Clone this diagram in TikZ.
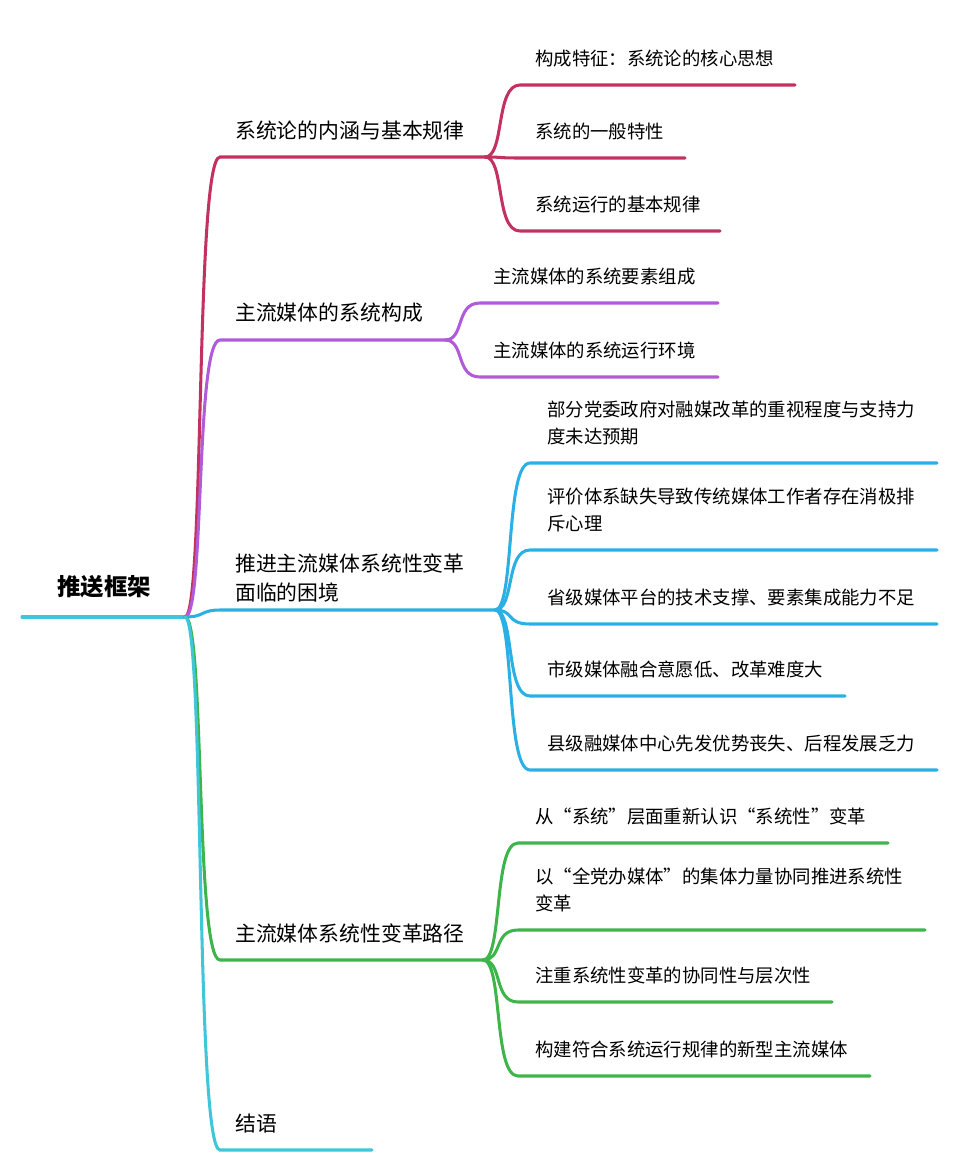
\documentclass[tikz,border=0pt]{standalone}
\usepackage{fontspec}
\setmainfont{Noto Sans CJK SC}
\usetikzlibrary{positioning}
\definecolor{cred}{HTML}{C2325F}
\definecolor{cpurple}{HTML}{B05BD8}
\definecolor{cblue}{HTML}{2AB0E4}
\definecolor{cgreen}{HTML}{3DB54A}
\definecolor{ccyan}{HTML}{3FC6D8}
\tikzset{
    branch/.style={line width=2.6pt, line cap=round},
    label/.style={anchor=south west, inner sep=0pt, font=\fontsize{15.7}{22.5}\selectfont, align=left},
    mainlabel/.style={label, font=\fontsize{17.8}{24}\selectfont},
    root/.style={inner sep=0pt, font=\fontsize{20}{24}\selectfont\bfseries}
}
\begin{document}
\begin{tikzpicture}[x=0.03cm, y=-0.03cm]
    \useasboundingbox (0,0) rectangle (960,1175);
    % Root
    \node[root] (root) at (104,587) {推送框架};
    \coordinate (rs) at (22,617);
    \coordinate (rh) at (185,617);
    \draw[branch, ccyan] (rs) -- (rh);

    % Branch 1
    \coordinate (b1s) at (220,157); \coordinate (b1e) at (485,157);
    \draw[branch, cred] (rh) .. controls (205,617) and (195,157) .. (b1s) -- (b1e);
    \node[mainlabel] (b1) at (235,140) {系统论的内涵与基本规律};
    \foreach \y/\xe/\t in {85/795/构成特征：系统论的核心思想, 158/685/系统的一般特性, 231/720/系统运行的基本规律}{
        \draw[branch, cred] (b1e) .. controls (505,157) and (495,\y) .. (520,\y) -- (\xe,\y);
        \node[label] at (535,\y-18) {\t};
    }

    % Branch 2
    \coordinate (b2s) at (220,340); \coordinate (b2e) at (445,340);
    \draw[branch, cpurple] (rh) .. controls (205,617) and (195,340) .. (b2s) -- (b2e);
    \node[mainlabel] (b2) at (235,323) {主流媒体的系统构成};
    \foreach \y/\t in {303/主流媒体的系统要素组成, 377/主流媒体的系统运行环境}{
        \draw[branch, cpurple] (b2e) .. controls (465,340) and (455,\y) .. (480,\y) -- (718,\y);
        \node[label] at (493,\y-18) {\t};
    }

    % Branch 3
    \coordinate (b3s) at (220,610); \coordinate (b3e) at (495,610);
    \draw[branch, cblue] (rh) .. controls (205,617) and (200,610) .. (b3s) -- (b3e);
    \node[mainlabel] (b3) at (235,602) {推进主流媒体系统性变革\\面临的困境};
    \foreach \y/\xe/\t in {463/937/{部分党委政府对融媒改革的重视程度与支持力\\度未达预期}, 550/937/{评价体系缺失导致传统媒体工作者存在消极排\\斥心理}, 624/937/省级媒体平台的技术支撑、要素集成能力不足, 696/845/市级媒体融合意愿低、改革难度大, 770/937/县级融媒体中心先发优势丧失、后程发展乏力}{
        \draw[branch, cblue] (b3e) .. controls (515,610) and (505,\y) .. (530,\y) -- (\xe,\y);
        \node[label] at (547,\y-18) {\t};
    }

    % Branch 4
    \coordinate (b4s) at (220,960); \coordinate (b4e) at (483,960);
    \draw[branch, cgreen] (rh) .. controls (205,617) and (195,960) .. (b4s) -- (b4e);
    \node[mainlabel] (b4) at (235,943) {主流媒体系统性变革路径};
    \foreach \y/\xe/\t in {843/888/从“系统”层面重新认识“系统性”变革, 930/925/{以“全党办媒体”的集体力量协同推进系统性\\变革}, 1002/832/注重系统性变革的协同性与层次性, 1076/870/构建符合系统运行规律的新型主流媒体}{
        \draw[branch, cgreen] (b4e) .. controls (503,960) and (493,\y) .. (518,\y) -- (\xe,\y);
        \node[label] at (535,\y-18) {\t};
    }

    % Branch 5
    \coordinate (b5s) at (220,1150); \coordinate (b5e) at (372,1150);
    \draw[branch, ccyan] (rh) .. controls (205,617) and (195,1150) .. (b5s) -- (b5e);
    \node[mainlabel] (b5) at (235,1133) {结语};
\end{tikzpicture}
\end{document}
